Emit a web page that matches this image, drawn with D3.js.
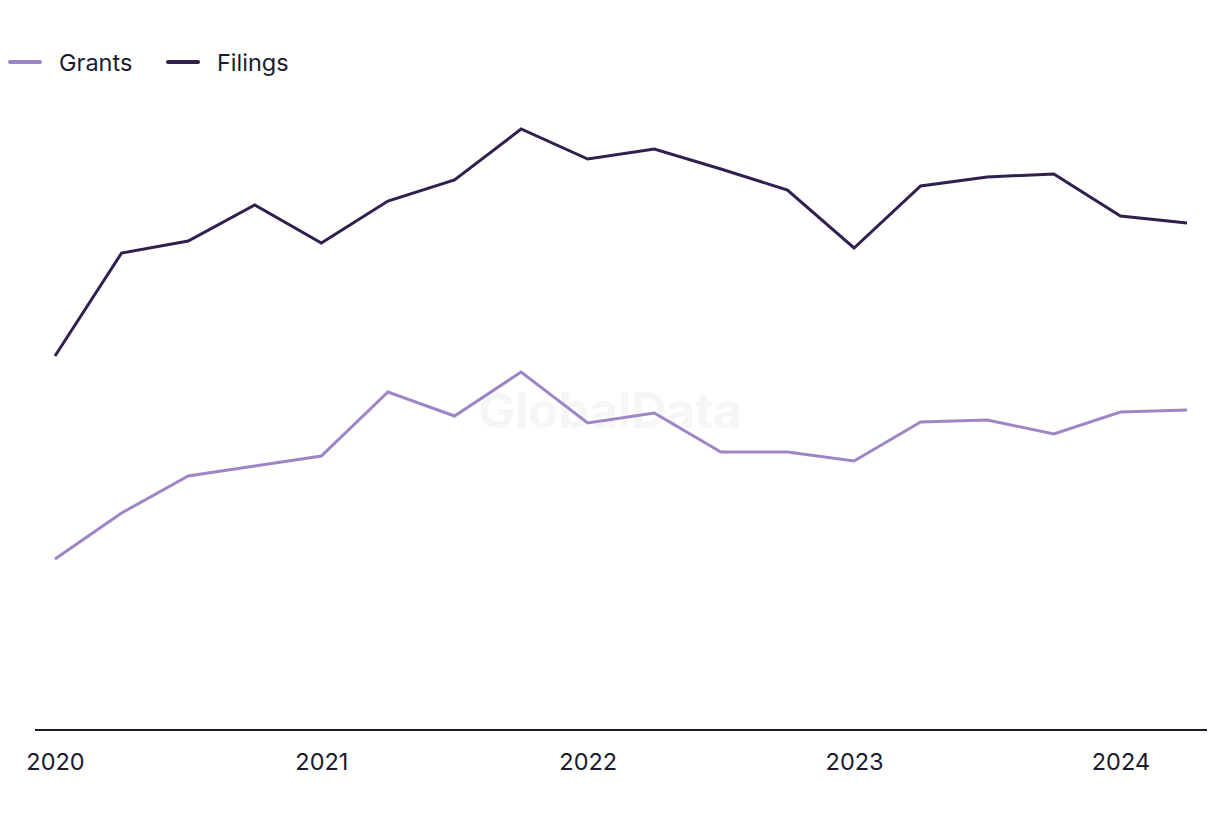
<!DOCTYPE html>
<html>
<head>
<meta charset="utf-8">
<script src="https://cdn.jsdelivr.net/npm/d3@7/dist/d3.min.js"></script>
<style>
  html, body { margin: 0; padding: 0; background: #ffffff; }
  svg { display: block; font-family: Inter, "Noto Sans", sans-serif; }
</style>
</head>
<body>
<svg id="chart" width="1220" height="820"></svg>
<script>
// Quarterly periods (year + quarter offset), 2020 Q1 to 2024 Q2
const periods = [2020.00, 2020.25, 2020.50, 2020.75,
                 2021.00, 2021.25, 2021.50, 2021.75,
                 2022.00, 2022.25, 2022.50, 2022.75,
                 2023.00, 2023.25, 2023.50, 2023.75,
                 2024.00, 2024.25];
const filings = [374, 477, 489, 525, 487, 529, 550, 601, 571, 581, 561, 540, 482, 544, 553, 556, 514, 507];
const grants  = [171, 217, 254, 264, 274, 338, 314, 358, 307, 317, 278, 278, 269, 308, 310, 296, 318, 320];
const tickYears = [2020, 2021, 2022, 2023, 2024];
const seriesNames = ["Grants", "Filings"];
const seriesColors = ["#9e86c6", "#2f2050"];

const svg = d3.select("#chart");
const x = d3.scaleLinear().domain([2020, 2024.25]).range([55, 1187]);
const y = d3.scaleLinear().domain([0, 600]).range([730, 130]);

// watermark
svg.append("text")
  .attr("x", 610).attr("y", 428)
  .attr("text-anchor", "middle")
  .attr("font-size", 49).attr("font-weight", 700)
  .attr("fill", "#f6f6f7")
  .text("GlobalData");

// baseline
svg.append("line")
  .attr("x1", x(2020) - 20).attr("x2", x(2024.25) + 20)
  .attr("y1", y(0)).attr("y2", y(0))
  .attr("stroke", "#1b1a2e").attr("stroke-width", 2);

// x axis labels
const xAxis = d3.axisBottom(x).tickValues(tickYears).tickFormat(d3.format("d")).tickSize(0).tickPadding(23);
const gx = svg.append("g").attr("transform", `translate(0,${y(0)})`).call(xAxis);
gx.select(".domain").remove();
gx.selectAll("text").attr("font-size", 23.5).attr("fill", "#1b1a2e").attr("font-family", "Inter, 'Noto Sans', sans-serif");

const line = d3.line().x((d, i) => x(periods[i])).y(d => y(d));

[grants, filings].forEach((vals, k) => {
  svg.append("path")
    .datum(vals)
    .attr("d", line)
    .attr("fill", "none")
    .attr("stroke", seriesColors[k])
    .attr("stroke-width", 3)
    .attr("stroke-linejoin", "miter");
});

// legend
const legendX = [10, 168];
seriesNames.forEach((name, k) => {
  const g = svg.append("g").attr("transform", `translate(${legendX[k]},62)`);
  g.append("line").attr("x1", 0).attr("x2", 30).attr("y1", 0).attr("y2", 0)
    .attr("stroke", seriesColors[k]).attr("stroke-width", 4).attr("stroke-linecap", "round");
  g.append("text").attr("x", 49).attr("y", 8.5)
    .attr("font-size", 23.5).attr("fill", "#1b1a2e").text(name);
});
</script>
</body>
</html>
